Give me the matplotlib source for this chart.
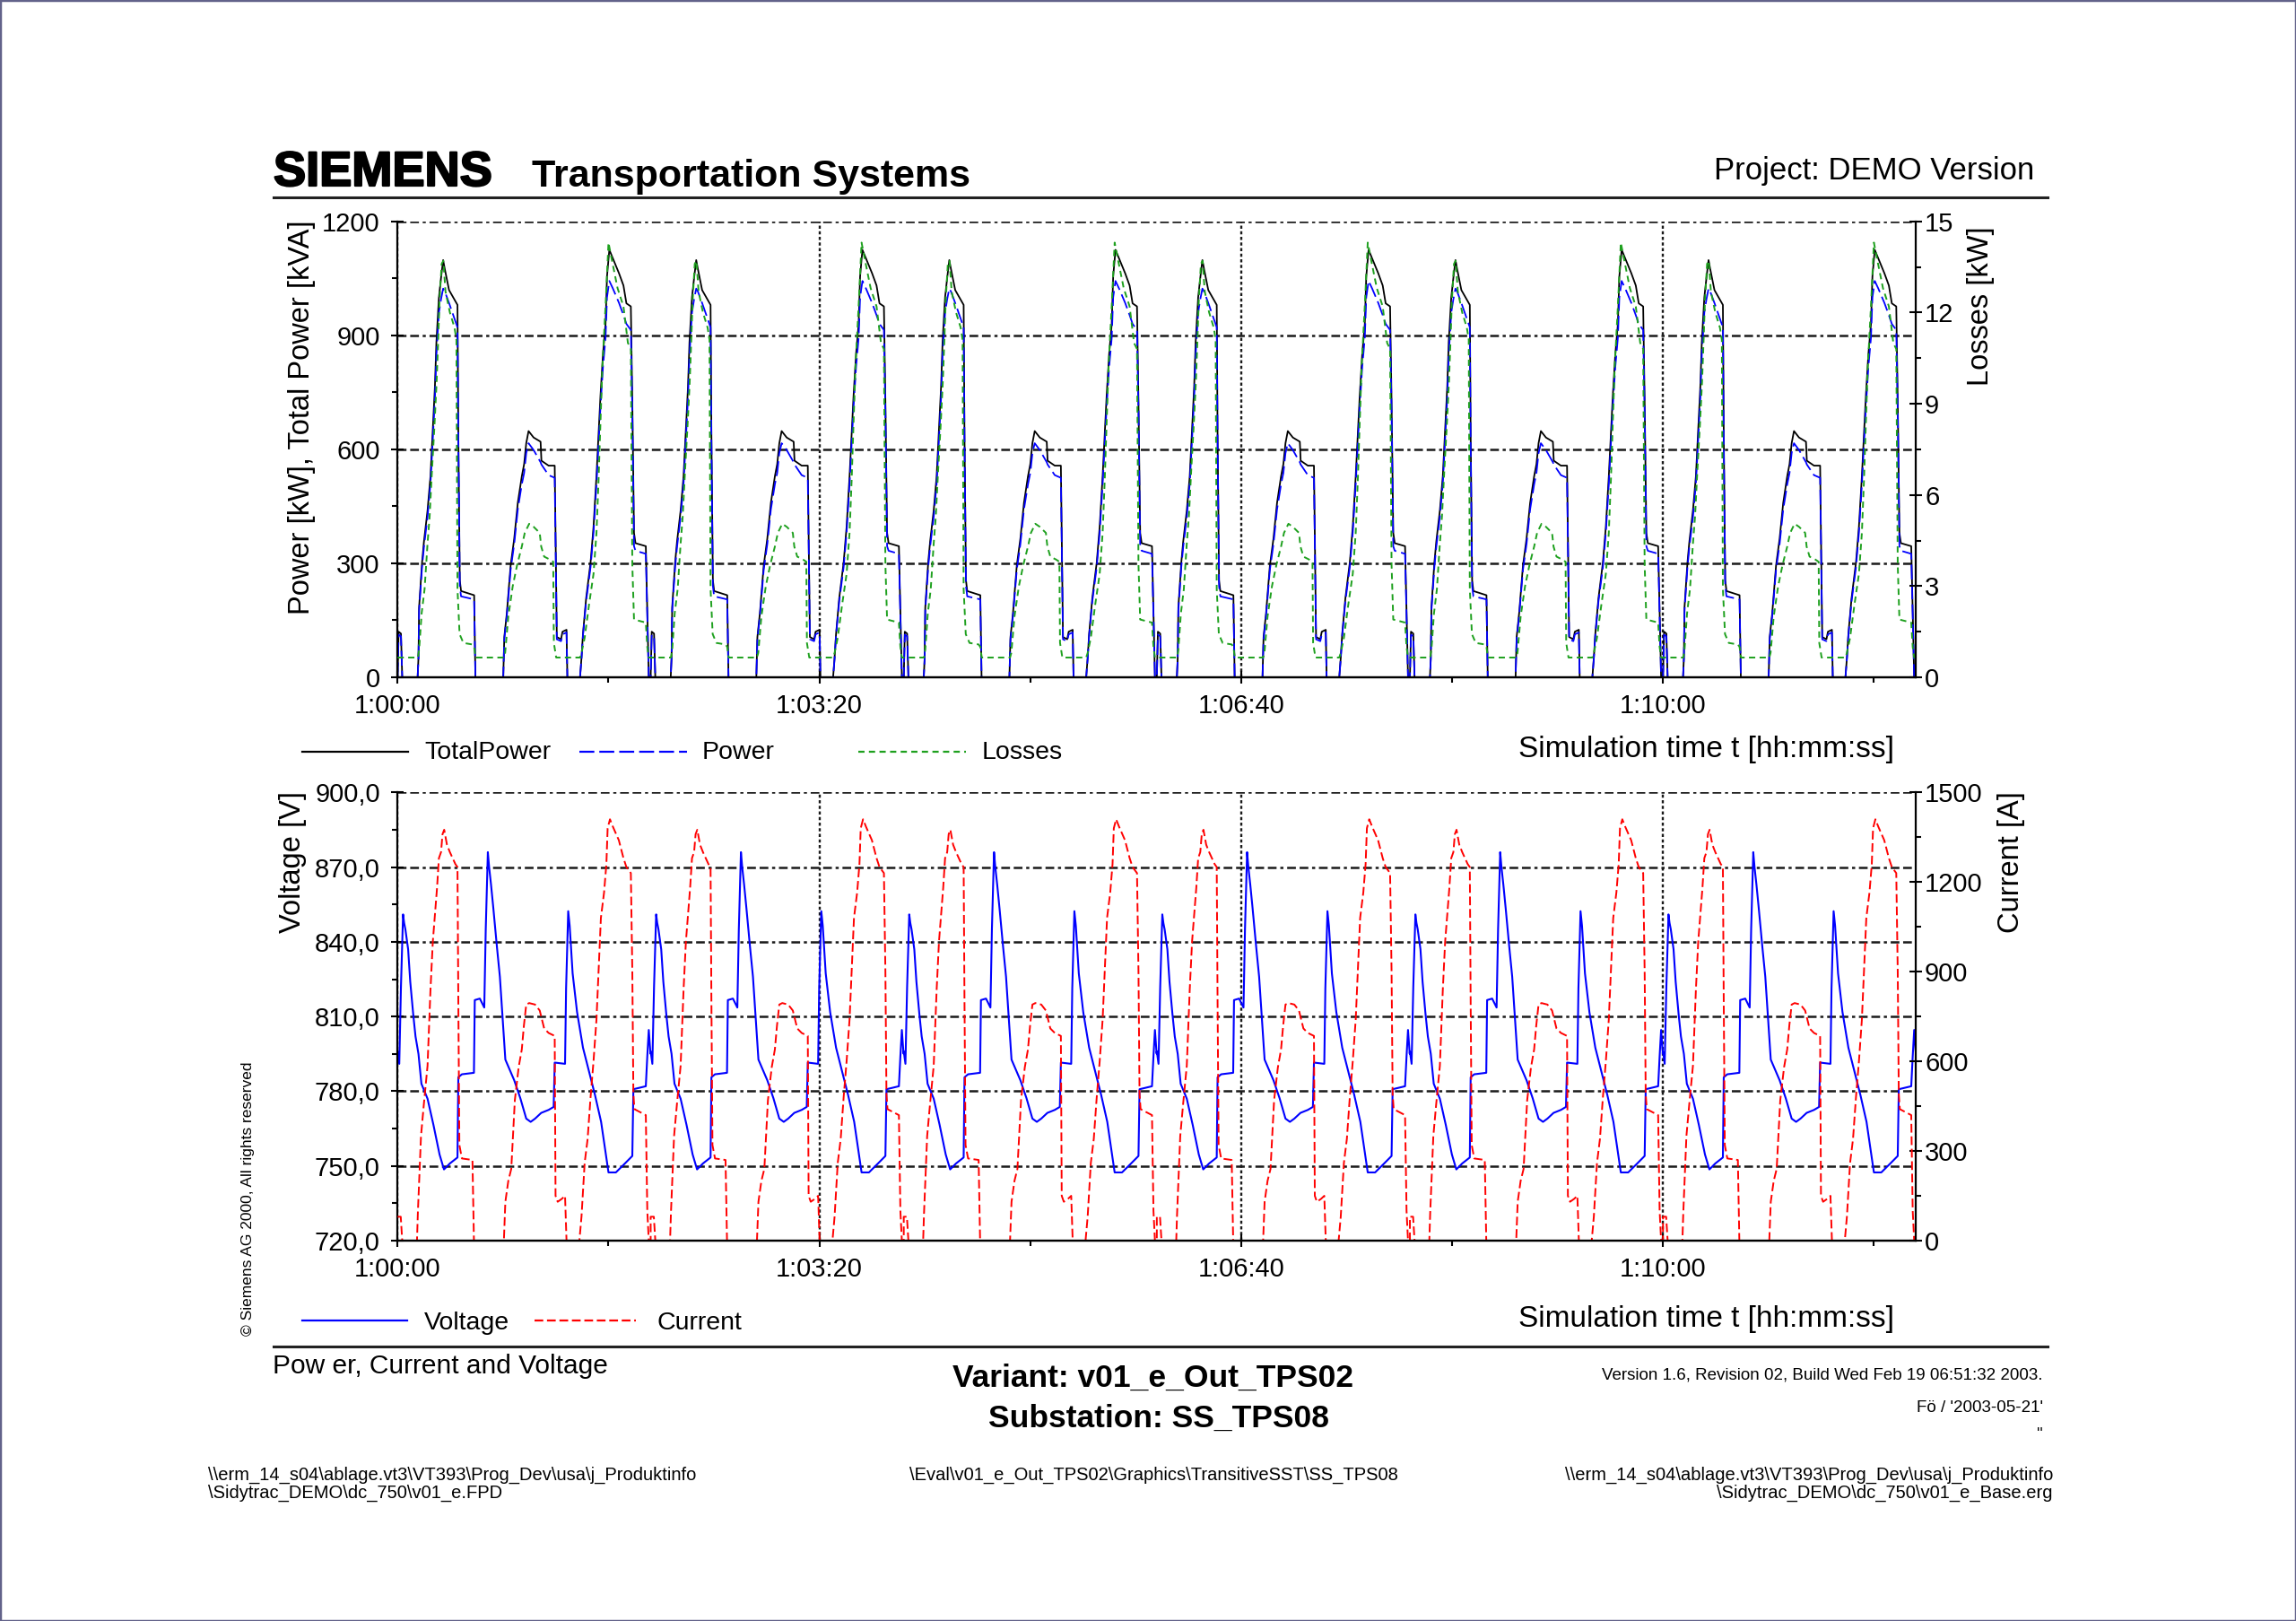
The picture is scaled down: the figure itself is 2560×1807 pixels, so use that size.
import numpy as np
import matplotlib
matplotlib.use("Agg")
import matplotlib.pyplot as plt
import matplotlib.patheffects as pe
from matplotlib.lines import Line2D
from matplotlib.patches import Rectangle
from matplotlib.ticker import MultipleLocator, FixedLocator, FuncFormatter

# ---------------- DATA ----------------
# the simulation repeats one 120 s operating cycle
CYCLE_STARTS = [0, 120, 240, 360, 480, 600]

# TotalPower [kVA]
TOTAL_T = [0.0, 0.5, 1.6, 2.2, 9.5, 9.9, 10.2, 11.6, 12.5, 14.2, 15.6, 16.7, 17.7, 18.4, 19.6, 20.6, 21.6, 22.4, 24.4,
           28.4, 28.8, 29.5, 30.1, 36.3, 36.9,
           50.1, 50.6, 51.8, 53.6, 55.3, 57.0, 58.9, 60.0, 61.0, 62.1, 64.5, 67.8, 68.2, 71.6, 74.5, 75.0, 75.5, 77.5,
           78.2, 80.1, 80.5,
           86.5, 87.2, 87.9, 89.4, 91.5, 92.9, 94.3, 95.3, 96.2, 97.4, 98.6, 99.3, 100.4, 102.1, 105.0, 107.1, 108.5,
           110.6, 111.3, 112.1, 112.8, 117.7, 118.4, 119.1, 120.0]
TOTAL_KVA = [0, 120, 115, 0, 0, 51, 184, 302, 357, 439, 529, 655, 765, 882, 1000, 1051, 1098, 1074, 1019,
             980, 639, 255, 227, 216, 0,
             0, 106, 169, 294, 365, 459, 529, 561, 616, 648, 631, 620, 570, 557, 557, 325, 106, 100,
             120, 125, 0,
             0, 51, 114, 208, 302, 396, 529, 639, 741, 851, 929, 1055, 1125, 1102, 1063, 1031, 984,
             976, 725, 380, 353, 345, 169, 0, 0]

# Power [kW] (same sample times as TotalPower)
POWER_KW = [0, 112, 108, 0, 0, 48, 176, 290, 343, 422, 510, 630, 735, 848, 960, 995, 1023, 1015, 985,
            921, 620, 240, 213, 205, 0,
            0, 100, 162, 283, 351, 442, 508, 538, 590, 616, 598, 566, 560, 532, 525, 310, 100, 95,
            113, 118, 0,
            0, 48, 110, 200, 290, 381, 508, 614, 712, 818, 893, 1000, 1043, 1023, 985, 953, 930,
            914, 700, 345, 333, 325, 160, 0, 0]

# Losses [kW]
LOSS_T = [0.0, 9.6, 10.2, 11.4, 12.8, 14.2, 15.2, 16.3, 17.5, 18.5, 19.2, 19.9, 20.9, 21.7, 22.7, 24.8, 27.0, 27.9,
          28.4, 29.4, 31.2, 35.5, 36.3, 37.0,
          50.4, 51.0, 52.5, 54.6, 56.7, 58.9, 60.3, 62.4, 64.5, 67.4, 68.1, 69.5, 72.3, 73.8, 74.1, 75.2,
          86.5, 87.2, 88.7, 90.8, 92.9, 94.3, 95.3, 96.2, 97.1, 98.6, 100.0, 101.4, 104.3, 107.1, 109.2, 110.6,
          111.3, 112.1, 117.7, 118.4, 119.1, 120.0]
LOSS_KW = [0.65, 0.65, 0.9, 2.1, 2.9, 4.4, 5.3, 6.8, 8.3, 9.7, 11.0, 12.4, 13.6, 13.7, 12.7, 12.0, 11.5, 11.1,
           2.9, 1.42, 1.13, 1.08, 1.0, 0.65,
           0.65, 0.8, 2.0, 3.0, 3.7, 4.3, 4.75, 5.05, 4.95, 4.75, 4.3, 3.97, 3.87, 3.8, 1.13, 0.65,
           0.65, 0.8, 1.3, 2.4, 3.4, 4.75, 6.5, 8.4, 10.2, 12.2, 14.3, 13.8, 12.8, 12.2, 11.0, 10.8,
           3.7, 1.9, 1.8, 1.0, 0.65, 0.65]

# Voltage [V]
VOLT_T = [0.0, 0.8, 1.6, 2.6, 3.1, 3.7, 5.0, 6.0, 7.4, 8.5, 9.9, 11.3, 14.2, 17.0, 19.9, 22.0, 24.8, 28.4, 28.8,
          30.5, 36.2, 36.6, 39.0, 41.1, 41.8, 42.8, 43.4, 44.3, 45.4, 47.1, 48.5, 51.1, 55.3, 58.2, 61.0, 63.1,
          65.2, 68.1, 71.6, 74.0, 74.5, 79.4, 79.9, 80.9, 81.6, 83.0, 85.1, 87.9, 92.2, 93.6, 96.5, 100.0, 103.5,
          107.8, 111.3, 111.8, 117.7, 118.4, 119.1, 119.9]
VOLT_V = [796, 791, 822, 851, 847.6, 845, 837, 824, 811, 802, 795, 783, 777, 766.5, 754.6, 748.6, 751, 753.4, 785.6,
          786.8, 787.4, 816.6, 817.2, 813.6, 845, 876, 870, 863, 853.5, 838, 826, 792.7, 784.4, 777.2, 769, 767.7,
          769, 771.3, 772.5, 773.7, 791.5, 791, 821.3, 852.3, 846.4, 827.3, 811.8, 797.5, 783.2, 778.5, 767.7,
          747.4, 747.4, 751, 754, 780.8, 782, 794, 804.6, 795.1]

# Current [A]
CURR_T = [0.0, 0.3, 1.5, 2.2, 9.2, 9.6, 11.1, 12.5, 14.2, 15.6, 16.7, 17.7, 18.7, 19.6, 20.6, 21.3, 22.1, 23.4, 24.8,
          27.4, 28.4, 28.8, 29.3, 30.5, 35.5, 36.2,
          50.4, 51.1, 52.5, 53.9, 55.6, 57.4, 58.9, 59.9, 61.0, 62.4, 65.2, 67.4, 69.5, 71.6, 74.5, 74.9, 75.9,
          77.9, 79.4, 80.1,
          86.2, 87.2, 88.7, 90.1, 91.5, 92.9, 94.3, 95.7, 96.4, 97.9, 99.0, 99.6, 100.7, 102.1, 104.9, 107.1, 108.5,
          110.6, 111.3, 111.8, 112.3, 117.7, 118.4, 119.1, 120.0]
CURR_A = [80, 80, 80, 0, 0, 90, 350, 460, 585, 840, 1000, 1090, 1180, 1280, 1300, 1360, 1375, 1325, 1300,
          1260, 1250, 800, 320, 275, 270, 0,
          0, 130, 200, 240, 470, 580, 640, 720, 790, 795, 790, 770, 710, 695, 685, 150, 130,
          140, 150, 0,
          0, 80, 260, 340, 480, 600, 740, 970, 1080, 1165, 1260, 1380, 1410, 1385, 1340, 1280, 1250,
          1230, 900, 490, 440, 420, 100, 0, 0]

TIME_TICKS = [0, 200, 400, 600]
TIME_LABELS = ["1:00:00", "1:03:20", "1:06:40", "1:10:00"]

# ---------------- STYLE ----------------
plt.rcParams['font.family'] = ['Liberation Sans', 'DejaVu Sans']
plt.rcParams['lines.scale_dashes'] = False
plt.rcParams['axes.linewidth'] = 1.6

W, H = 2560, 1807
BLUE = '#0000ff'
GREEN = '#1ea01e'
RED = '#ff0000'
DASH_POWER = (0, (12, 4))
DASH_LOSS = (0, (5, 3.5))
DASH_CURR = (0, (7, 3))
GRID_H = (0, (7, 3, 7, 3, 2.5, 3))
GRID_V = (0, (2.5, 2))


def fx(px):
    return px / W


def fy(py):
    return 1 - py / H


def tile(t_cycle, v_cycle):
    t = np.concatenate([np.array(t_cycle, dtype=float) + s for s in CYCLE_STARTS])
    v = np.tile(np.array(v_cycle, dtype=float), len(CYCLE_STARTS))
    return t, v


def style_axes(ax, axr):
    for a in (ax, axr):
        a.spines['top'].set_visible(False)
    ax.spines['right'].set_visible(False)
    axr.spines['left'].set_visible(False)
    axr.spines['right'].set_linewidth(1.6)

    ax.set_xlim(0, 720)
    ax.xaxis.set_major_locator(FixedLocator(TIME_TICKS))
    ax.set_xticklabels(TIME_LABELS)
    ax.xaxis.set_minor_locator(FixedLocator([100, 300, 500, 700]))

    ax.tick_params(which='major', direction='inout', length=10, width=1.5, labelsize=21, pad=8)
    ax.tick_params(axis='y', which='major', pad=9)
    ax.tick_params(which='minor', direction='out', length=4, width=1.5)
    axr.tick_params(which='major', direction='inout', length=10, width=1.5, labelsize=21, pad=2)
    axr.tick_params(which='minor', direction='out', length=4, width=1.5)

    ax.grid(axis='y', which='major', color='#1a1a1a', lw=1.8, linestyle=GRID_H)
    ax.grid(axis='x', which='major', color='#1a1a1a', lw=1.7, linestyle=GRID_V)


def legend_row(y_line, y_text, items):
    for x0, x1, xt, color, ls, label in items:
        fig.add_artist(Line2D([fx(x0), fx(x1)], [fy(y_line), fy(y_line)], transform=fig.transFigure,
                              color=color, lw=1.6, linestyle=ls))
        fig.text(fx(xt), fy(y_text), label, fontsize=20.5, va='baseline', ha='left')


# ---------------- PLOT ----------------
fig = plt.figure(figsize=(25.6, 18.07), dpi=100)

# --- top: power ---
ax1 = fig.add_axes([fx(443.3), fy(755), fx(2136.4) - fx(443.3), (755 - 246.7) / H])
ax1r = ax1.twinx()
style_axes(ax1, ax1r)

t, v = tile(TOTAL_T, TOTAL_KVA)
ax1.plot(t, v, color='k', lw=1.3)
t, v = tile(TOTAL_T, POWER_KW)
ax1.plot(t, v, color=BLUE, lw=1.3, linestyle=DASH_POWER)
t, v = tile(LOSS_T, LOSS_KW)
ax1r.plot(t, v, color=GREEN, lw=1.4, linestyle=DASH_LOSS)

ax1.set_ylim(0, 1200)
ax1.yaxis.set_major_locator(MultipleLocator(300))
ax1.yaxis.set_minor_locator(FixedLocator([150, 450, 750, 1050]))
ax1r.set_ylim(0, 15)
ax1r.yaxis.set_major_locator(MultipleLocator(3))
ax1r.yaxis.set_minor_locator(FixedLocator([1.5, 4.5, 7.5, 10.5, 13.5]))

# --- bottom: voltage / current ---
ax2 = fig.add_axes([fx(443.3), fy(1383), fx(2136.4) - fx(443.3), (1383 - 883.3) / H])
ax2r = ax2.twinx()
style_axes(ax2, ax2r)

t, v = tile(VOLT_T, VOLT_V)
ax2.plot(t, v, color=BLUE, lw=1.5)
t, v = tile(CURR_T, CURR_A)
ax2r.plot(t, v, color=RED, lw=1.4, linestyle=DASH_CURR)

ax2.set_ylim(720, 900)
ax2.yaxis.set_major_locator(MultipleLocator(30))
ax2.yaxis.set_minor_locator(FixedLocator(np.arange(735, 900, 30)))
ax2.yaxis.set_major_formatter(FuncFormatter(lambda val, _: f"{val:.1f}".replace('.', ',')))
ax2r.set_ylim(0, 1500)
ax2r.yaxis.set_major_locator(MultipleLocator(300))
ax2r.yaxis.set_minor_locator(FixedLocator(np.arange(150, 1500, 300)))

# --- axis labels (aligned with the top of each axes) ---
fig.text(fx(337), fy(245), "Power [kW], Total Power [kVA]", rotation=90, ha='center', va='top', fontsize=23.5)
fig.text(fx(2208), fy(252), "Losses [kW]", rotation=90, ha='center', va='top', fontsize=23.5)
fig.text(fx(327), fy(882), "Voltage [V]", rotation=90, ha='center', va='top', fontsize=23.5)
fig.text(fx(2243), fy(882), "Current [A]", rotation=90, ha='center', va='top', fontsize=23.5)
fig.text(fx(2112), fy(844), "Simulation time t [hh:mm:ss]", ha='right', va='baseline', fontsize=24)
fig.text(fx(2112), fy(1479), "Simulation time t [hh:mm:ss]", ha='right', va='baseline', fontsize=24)

# --- legends ---
legend_row(838, 846, [
    (337, 455, 473, 'k', '-', "TotalPower"),
    (646, 766, 783, BLUE, DASH_POWER, "Power"),
    (957, 1077, 1095, GREEN, DASH_LOSS, "Losses"),
])
legend_row(1472, 1482, [
    (337, 454, 473, BLUE, '-', "Voltage"),
    (596, 709, 733, RED, DASH_CURR, "Current"),
])

# --- header ---
fig.text(fx(305), fy(207), "SIEMENS", fontsize=39, fontweight='bold', va='baseline',
         path_effects=[pe.withStroke(linewidth=1.6, foreground='k')])
fig.text(fx(593), fy(208), "Transportation Systems", fontsize=31, fontweight='bold', va='baseline')
fig.text(fx(2268), fy(200), "Project: DEMO Version", fontsize=25, ha='right', va='baseline')
fig.add_artist(Line2D([fx(305), fx(2283)], [fy(220), fy(220)], transform=fig.transFigure, color='#222222', lw=2.2))

# --- footer ---
fig.add_artist(Line2D([fx(305), fx(2283)], [fy(1501), fy(1501)], transform=fig.transFigure, color='#222222', lw=2.2))
fig.text(fx(277), fy(1336), "\u00a9 Siemens AG 2000, All rights reserved", rotation=90, ha='center', va='center',
         fontsize=12.5)
fig.text(fx(304), fy(1531), "Pow er, Current and Voltage", fontsize=21.5, va='baseline')
fig.text(fx(1286), fy(1546), "Variant: v01_e_Out_TPS02", fontsize=25.5, fontweight='bold', ha='center',
         va='baseline')
fig.text(fx(1292), fy(1591), "Substation: SS_TPS08", fontsize=25.5, fontweight='bold', ha='center', va='baseline')
fig.text(fx(2277), fy(1537), "Version 1.6, Revision 02, Build Wed Feb 19 06:51:32 2003.", fontsize=13.5,
         ha='right', va='baseline')
fig.text(fx(2278), fy(1574), "F\u00f6 / '2003-05-21'", fontsize=13.5, ha='right', va='baseline')
fig.text(fx(2278), fy(1604), "''", fontsize=13, ha='right', va='baseline')

fig.text(fx(232), fy(1650), "\\\\erm_14_s04\\ablage.vt3\\VT393\\Prog_Dev\\usa\\j_Produktinfo", fontsize=14.5,
         va='baseline')
fig.text(fx(232), fy(1670), "\\Sidytrac_DEMO\\dc_750\\v01_e.FPD", fontsize=14.5, va='baseline')
fig.text(fx(1286), fy(1650), "\\Eval\\v01_e_Out_TPS02\\Graphics\\TransitiveSST\\SS_TPS08", fontsize=14.5,
         ha='center', va='baseline')
fig.text(fx(2289), fy(1650), "\\\\erm_14_s04\\ablage.vt3\\VT393\\Prog_Dev\\usa\\j_Produktinfo", fontsize=14.5,
         ha='right', va='baseline')
fig.text(fx(2289), fy(1670), "\\Sidytrac_DEMO\\dc_750\\v01_e_Base.erg", fontsize=14.5, ha='right', va='baseline')

# --- page frame ---
fig.add_artist(Rectangle((0, 0), 1, 1, transform=fig.transFigure, fill=False, edgecolor='#62628a', lw=2.5))

fig.savefig("out.png", dpi=100)
